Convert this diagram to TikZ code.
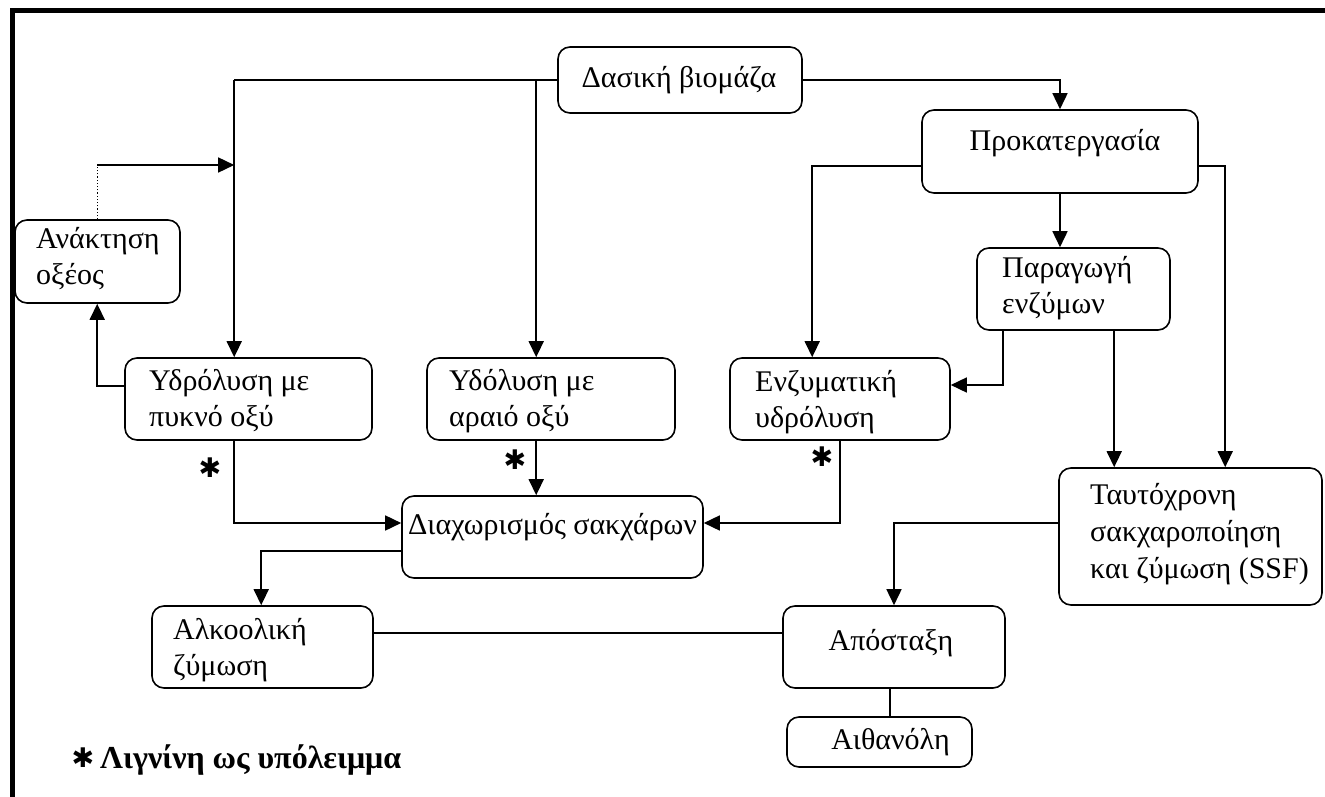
\documentclass[tikz,border=0pt]{standalone}
\usepackage{fontspec}
\setmainfont{Liberation Serif}
\newfontfamily\symfont{DejaVu Sans}
\usetikzlibrary{arrows.meta,calc}
\begin{document}
\begin{tikzpicture}[x=1pt,y=-1pt,
  box/.style={draw, line width=1.6pt, rounded corners=12pt, inner sep=0pt},
  txt/.style={font=\fontsize{30}{36}\selectfont, align=left, inner sep=0pt},
  arr/.style={line width=1.6pt, -{Triangle[length=16pt,width=15pt]}},
  ln/.style={line width=1.6pt},
  star/.style={font=\symfont\bfseries\fontsize{27}{27}\selectfont, inner sep=0pt},
  frame/.style={line width=5pt}]
\useasboundingbox (0,0) rectangle (1325,797);
% frame
\draw[frame] (12,797) -- (12,10.5) -- (1325,10.5);

% boxes
\node[box, minimum width=244pt, minimum height=66pt] (das) at (680,80) {};
\node[box, minimum width=276pt, minimum height=83pt] (pro) at (1060,151.5) {};
\node[box, minimum width=193pt, minimum height=82pt] (par) at (1073.5,289) {};
\node[box, minimum width=263pt, minimum height=137pt] (ssf) at (1190.5,536.5) {};
\node[box, minimum width=247pt, minimum height=82pt] (ypy) at (248.5,399) {};
\node[box, minimum width=248pt, minimum height=82pt] (yar) at (551,399) {};
\node[box, minimum width=220pt, minimum height=82pt] (enz) at (840,399) {};
\node[box, minimum width=165pt, minimum height=83pt] (ana) at (97.5,261.5) {};
\node[box, minimum width=301pt, minimum height=82pt] (dia) at (552.5,537) {};
\node[box, minimum width=221pt, minimum height=82pt] (alk) at (262.5,647) {};
\node[box, minimum width=222pt, minimum height=82pt] (apo) at (894,647) {};
\node[box, minimum width=185pt, minimum height=50pt] (aith) at (879.5,742) {};

% texts
\node[txt] (dasT) at (679,80) {Δασική βιομάζα};
\node[txt] (proT) at (1065,143) {Προκατεργασία};
\node[txt, anchor=west] (parT) at (1002,288.5) {Παραγωγή\\ενζύμων};
\node[txt, anchor=west, font=\fontsize{30}{37}\selectfont] (ssfT) at (1090,534) {Ταυτόχρονη\\σακχαροποίηση\\και ζύμωση (SSF)};
\node[txt, anchor=west] (ypyT) at (149,401) {Υδρόλυση με\\πυκνό οξύ};
\node[txt, anchor=west] (yarT) at (449,401) {Υδόλυση με\\αραιό οξύ};
\node[txt, anchor=west] (enzT) at (755,402) {Ενζυματική\\υδρόλυση};
\node[txt, anchor=west] (anaT) at (36,259) {Ανάκτηση\\οξέος};
\node[txt, anchor=west] (diaT) at (408,527) {Διαχωρισμός σακχάρων};
\node[txt, anchor=west] (alkT) at (173,650) {Αλκοολική\\ζύμωση};
\node[txt] (apoT) at (891,643) {Απόσταξη};
\node[txt] (aithT) at (890.5,742) {Αιθανόλη};

% junction coordinates
\coordinate (jl) at ([xshift=110pt]ypy.north west);
\coordinate (jm) at ([xshift=110pt]yar.north west);
\coordinate (je) at ([xshift=83pt]enz.north west);
\coordinate (js) at ([xshift=167pt]ssf.north west);
\coordinate (jp1) at ([xshift=27pt]par.south west);
\coordinate (jp2) at ([xshift=138pt]par.south west);
\coordinate (ja) at ([xshift=83pt]ana.north west);
\coordinate (jd) at (ja |- 0,165);
\coordinate (jdEnd) at (jl |- jd);

% connectors
\draw[ln] (das.west) -- (jl |- das.west);
\draw[arr] (jl |- das.west) -- (jl);
\draw[arr] (jm |- das.west) -- (jm);
\draw[arr] (das.east) -| (pro.north);
\draw[arr] ([yshift=-14.5pt]pro.west) -| (je);
\draw[arr] ([yshift=-14.5pt]pro.east) -| (js);
\draw[arr] (pro.south) -- (pro.south |- par.north);
\draw[arr] (jp1) |- ([yshift=14pt]enz.east);
\draw[arr] (jp2) -- (jp2 |- ssf.north);
\draw[arr] ([yshift=13pt]ypy.west) -| ([xshift=83pt]ana.south west);
\draw[line width=1.2pt, dotted] (ja) -- (jd);
\draw[arr] (jd) -- (jdEnd);
\draw[arr] ([xshift=110pt]ypy.south west) |- ([yshift=14pt]dia.west);
\draw[arr] ([xshift=110pt]yar.south west) -- ([xshift=110pt]yar.south west |- dia.north);
\draw[arr] (enz.south) |- ([yshift=14pt]dia.east);
\draw[arr] ([yshift=-14pt]dia.west) -| ([xshift=110pt]alk.north west);
\draw[arr] ([yshift=13.5pt]ssf.west) -| (apo.north);
\draw[ln] ([yshift=14pt]alk.east) -- ([yshift=14pt]apo.west);
\draw[ln] ([xshift=-4pt]apo.south) -- ([xshift=-4pt]apo.south |- aith.north);

% lignin markers
\node[star] (s1) at (210,468) {✱};
\node[star] (s2) at (515,460) {✱};
\node[star] (s3) at (822,457) {✱};
\node[star] (s4) at (83,758) {✱};
\node[txt, anchor=west, font=\bfseries\fontsize{32}{36}\selectfont] (leg) at (100,760) {Λιγνίνη ως υπόλειμμα};
\end{tikzpicture}
\end{document}
